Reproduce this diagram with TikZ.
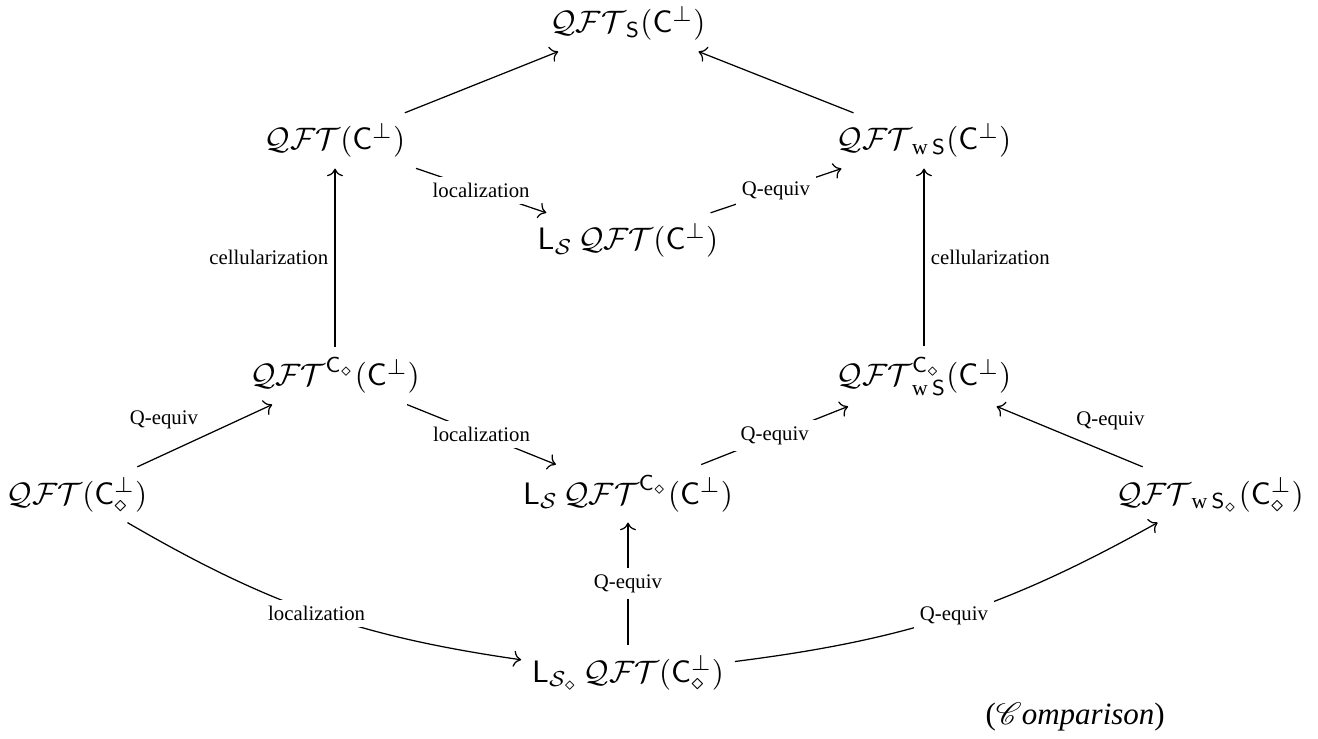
\documentclass[tikz,border=0pt]{standalone}
\usepackage{amsmath}
\usepackage{mathrsfs}
\usepackage[no-math]{fontspec}
\setmainfont{Liberation Serif}
\usetikzlibrary{cd}
\newcommand{\Q}{\mathcal{QFT}}
\newcommand{\Cp}{\mathsf{C}^{\perp}}
\newcommand{\Cpd}{\mathsf{C}^{\perp}_{\diamond}}
\newcommand{\wS}{\textrm{w}\,\mathsf{S}}
\begin{document}
\begin{tikzpicture}[x=0.32258pt,y=0.32258pt,
  ob/.style={anchor=base, inner sep=3.3pt},
  lab/.style={font=\fontsize{6.7}{8}\selectfont, inner sep=2pt},
  mid/.style={lab, fill=white},
  ar/.style={-{cm to}, line width=0.4pt}]
\useasboundingbox (0,0) rectangle (1318,738);
\node[ob] (top) at (628,705) {$\Q_{\mathsf{S}}(\Cp)$};
\node[ob] (qft) at (335,588) {$\Q(\Cp)$};
\node[ob] (qftws) at (924,588) {$\Q_{\wS}(\Cp)$};
\node[ob] (ls) at (628,488) {$\mathsf{L}_{\mathcal{S}}\,\Q(\Cp)$};
\node[ob] (qftc) at (335,352) {$\Q^{\mathsf{C}_\diamond}(\Cp)$};
\node[ob] (qftcws) at (924,352) {$\Q^{\mathsf{C}_\diamond}_{\wS}(\Cp)$};
\node[ob] (qftd) at (77,234) {$\Q(\Cpd)$};
\node[ob] (lsc) at (628,234) {$\mathsf{L}_{\mathcal{S}}\,\Q^{\mathsf{C}_\diamond}(\Cp)$};
\node[ob] (qftwsd) at (1210,234) {$\Q_{\textrm{w}\,\mathsf{S}_\diamond}(\Cpd)$};
\node[ob] (bot) at (628,56) {$\mathsf{L}_{\mathcal{S}_\diamond}\,\Q(\Cpd)$};
\node[anchor=base west, inner sep=0pt] (comp) at (985,14) {(\textit{$\mathscr{C}$omparison})};
\draw[ar] (qft) -- (top);
\draw[ar] (qftws) -- (top);
\draw[ar] (qft) -- node[mid] {localization} (ls);
\draw[ar] (ls) -- node[mid] {Q-equiv} (qftws);
\draw[ar] (qftc) -- node[lab, left] {cellularization} (qft);
\draw[ar] (qftcws) -- node[lab, right] {cellularization} (qftws);
\draw[ar] (qftc) -- node[mid] {localization} (lsc);
\draw[ar] (lsc) -- node[mid] {Q-equiv} (qftcws);
\draw[ar] (qftd) -- node[lab, above left] {Q-equiv} (qftc);
\draw[ar] (qftwsd) -- node[lab, above right] {Q-equiv} (qftcws);
\draw[ar] (bot) -- node[mid] {Q-equiv} (lsc);
\draw[ar] (qftd) to[bend right=11] node[mid] {localization} (bot);
\draw[ar] (bot) to[bend right=11] node[mid] {Q-equiv} (qftwsd);
\end{tikzpicture}
\end{document}
